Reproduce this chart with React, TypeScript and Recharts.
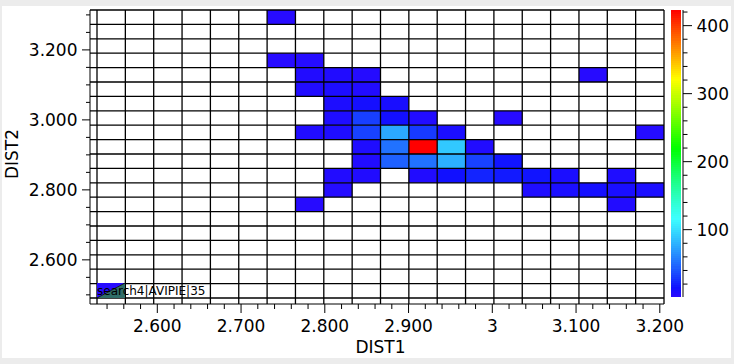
import React from 'react';
import { ScatterChart, Scatter, XAxis, YAxis, ReferenceArea, ReferenceLine } from 'recharts';

// ---- axis ranges / bins ----
const X_MIN = 2.528;
const X_MAX = 3.205;
const Y_MIN = 2.491;
const Y_MAX = 3.314;
const N_BINS = 20;

// ---- tick labels ----
const xMajorTicks = [2.6, 2.7, 2.8, 2.9, 3.0, 3.1, 3.2];
const xMajorLabels = ['2.600', '2.700', '2.800', '2.900', '3', '3.100', '3.200'];
const yMajorTicks = [2.6, 2.8, 3.0, 3.2];
const yMajorLabels = ['2.600', '2.800', '3.000', '3.200'];
const cbMajorTicks = [100, 200, 300, 400];
const cbMajorLabels = ['100', '200', '300', '400'];

// ---- histogram cells (column index from left, row index from top, count) ----
const binCol = [6, 6, 7, 7, 8, 9, 17, 7, 8, 9, 8, 9, 10, 8, 9, 10, 11, 14, 7, 8, 9, 10, 11, 12, 19, 9, 10, 11, 12, 13, 9, 10, 11, 12, 13, 14, 8, 9, 11, 12, 13, 14, 15, 16, 18, 8, 15, 16, 17, 18, 19, 7, 18];
const binRow = [0, 3, 3, 4, 4, 4, 4, 5, 5, 5, 6, 6, 6, 7, 7, 7, 7, 7, 8, 8, 8, 8, 8, 8, 8, 9, 9, 9, 9, 9, 10, 10, 10, 10, 10, 10, 11, 11, 11, 11, 11, 11, 11, 11, 11, 12, 12, 12, 12, 12, 12, 13, 13];
const binCount = [3, 3, 4, 5, 6, 4, 3, 6, 8, 5, 8, 12, 10, 7, 32, 13, 5, 3, 6, 7, 33, 75, 30, 9, 4, 7, 52, 423, 90, 6, 6, 45, 52, 78, 33, 16, 5, 6, 6, 14, 22, 18, 16, 9, 7, 4, 7, 9, 12, 10, 9, 3, 5];

const V_MIN = 1;
const V_MAX = 423;

const legendLabel = 'search4|AVIPIE|35';

const FONT = '"DejaVu Sans", Verdana, sans-serif';

function colorAt(t: number): string {
  const tt = Math.max(0, Math.min(1, t));
  const hue = 248 * (1 - tt);
  let light = 50;
  if (hue >= 180) light = 52 + ((248 - hue) / 68) * 10;
  else if (hue >= 120) light = 62 - ((180 - hue) / 60) * 12;
  else light = 50;
  return `hsl(${hue.toFixed(1)}, 100%, ${light.toFixed(1)}%)`;
}
const colorFor = (v: number) => colorAt((v - V_MIN) / (V_MAX - V_MIN));

const xStep = (X_MAX - X_MIN) / N_BINS;
const yStep = (Y_MAX - Y_MIN) / N_BINS;
const xEdges = Array.from({ length: N_BINS + 1 }, (_, i) => X_MIN + i * xStep);
const yEdges = Array.from({ length: N_BINS + 1 }, (_, i) => Y_MIN + i * yStep);

const xMinor: number[] = [];
for (let i = 0; i <= 33; i++) xMinor.push(Math.round((2.54 + i * 0.02) * 1000) / 1000);
const yMinor: number[] = [];
for (let i = 0; i <= 16; i++) yMinor.push(Math.round((2.5 + i * 0.05) * 1000) / 1000);
const cbMinor: number[] = [];
for (let i = 1; i <= 21; i++) cbMinor.push(i * 20);

// colour-bar slices (scale of the colour map)
const CB_SLICES = 141;
const cbStep = (V_MAX - V_MIN) / CB_SLICES;
const cbSlices = Array.from({ length: CB_SLICES }, (_, i) => V_MIN + i * cbStep);

const isMajor = (v: number, majors: number[]) => majors.findIndex((m) => Math.abs(m - v) < 1e-6);

const XTick = (props: any) => {
  const { x, y, payload } = props;
  const idx = isMajor(payload.value, xMajorTicks);
  return (
    <g>
      <line x1={x} x2={x} y1={y} y2={y + (idx >= 0 ? 9 : 5)} stroke="#000" strokeWidth={1} />
      {idx >= 0 && (
        <text x={x} y={y + 28} textAnchor="middle" fontSize={17} fontFamily={FONT} fill="#000">
          {xMajorLabels[idx]}
        </text>
      )}
    </g>
  );
};

const YTick = (props: any) => {
  const { x, y, payload } = props;
  const idx = isMajor(payload.value, yMajorTicks);
  return (
    <g>
      <line x1={x - (idx >= 0 ? 8 : 4)} x2={x} y1={y} y2={y} stroke="#000" strokeWidth={1} />
      {idx >= 0 && (
        <text x={x - 12.5} y={y} dy="0.36em" textAnchor="end" fontSize={17} fontFamily={FONT} fill="#000">
          {yMajorLabels[idx]}
        </text>
      )}
    </g>
  );
};

const CbTick = (props: any) => {
  const { x, y, payload } = props;
  const idx = isMajor(payload.value, cbMajorTicks);
  return (
    <g>
      <line x1={x} x2={x + (idx >= 0 ? 9 : 4.5)} y1={y} y2={y} stroke="#000" strokeWidth={1} />
      {idx >= 0 && (
        <text x={x + 13.5} y={y} dy="0.36em" textAnchor="start" fontSize={17} fontFamily={FONT} fill="#000">
          {cbMajorLabels[idx]}
        </text>
      )}
    </g>
  );
};

export default function App() {
  return (
    <div style={{ position: 'absolute', left: 0, top: 0, width: 734, height: 364, background: '#ececec', overflow: 'hidden' }}>
      <div style={{ position: 'absolute', left: 2, top: 6, width: 729, height: 352, background: '#ffffff' }} />
      <div style={{ position: 'absolute', left: 0, top: 0 }}>
        <ScatterChart width={734} height={364} margin={{ top: 10, right: 70, bottom: 10, left: 8 }}>
          <XAxis
            type="number"
            dataKey="x"
            domain={[X_MIN, X_MAX]}
            allowDataOverflow
            ticks={xMinor}
            interval={0}
            tick={<XTick />}
            tickSize={0}
            tickMargin={0}
            tickLine={false}
            axisLine={{ stroke: '#000', strokeWidth: 1 }}
            height={50}
            padding={{ left: 7, right: 0 }}
          />
          <YAxis
            type="number"
            dataKey="y"
            domain={[Y_MIN, Y_MAX]}
            allowDataOverflow
            ticks={yMinor}
            interval={0}
            tick={<YTick />}
            tickSize={0}
            tickMargin={0}
            tickLine={false}
            axisLine={{ stroke: '#000', strokeWidth: 1 }}
            width={82}
            padding={{ top: 0, bottom: 6 }}
          />
          {binCount.map((c, i) => (
            <ReferenceArea
              key={'c' + i}
              x1={xEdges[binCol[i]]}
              x2={xEdges[binCol[i] + 1]}
              y1={Y_MAX - (binRow[i] + 1) * yStep}
              y2={Y_MAX - binRow[i] * yStep}
              fill={colorFor(c)}
              fillOpacity={1}
              stroke="none"
              ifOverflow="visible"
            />
          ))}
          {xEdges.map((e, i) => (
            <ReferenceLine key={'vx' + i} x={e} stroke="#000" strokeWidth={1.3} ifOverflow="visible" />
          ))}
          {yEdges.map((e, i) => (
            <ReferenceLine key={'hy' + i} y={e} stroke="#000" strokeWidth={1.3} ifOverflow="visible" />
          ))}
          <Scatter data={[]} isAnimationActive={false} />
          <text x={380.5} y={353} textAnchor="middle" fontSize={17} fontFamily={FONT} fill="#000">DIST1</text>
          <text x={18} y={154} transform="rotate(-90 18 154)" textAnchor="middle" fontSize={17} fontFamily={FONT} fill="#000">DIST2</text>
        </ScatterChart>
      </div>
      <div style={{ position: 'absolute', left: 640, top: 0 }}>
        <ScatterChart width={94} height={364} margin={{ top: 10, right: 0, bottom: 67, left: 31 }}>
          <XAxis
            type="number"
            dataKey="x"
            domain={[0, 12]}
            allowDataOverflow
            height={0}
            tick={false}
            tickLine={false}
            axisLine={false}
          />
          <YAxis
            type="number"
            dataKey="v"
            orientation="right"
            domain={[V_MIN, V_MAX]}
            allowDataOverflow
            ticks={cbMinor}
            interval={0}
            tick={<CbTick />}
            tickSize={0}
            tickMargin={0}
            tickLine={false}
            axisLine={{ stroke: '#000', strokeWidth: 1 }}
            width={51}
          />
          {cbSlices.map((v, i) => (
            <ReferenceArea
              key={'s' + i}
              x1={0}
              x2={10}
              y1={v}
              y2={Math.min(V_MAX, v + cbStep * 2)}
              fill={colorFor(v + cbStep / 2)}
              fillOpacity={1}
              stroke="none"
              ifOverflow="visible"
              shapeRendering="crispEdges"
            />
          ))}
          <Scatter data={[]} isAnimationActive={false} />
        </ScatterChart>
      </div>
      <div style={{ position: 'absolute', left: 97, top: 283, height: 15 }}>
        <svg width={28} height={15} style={{ position: 'absolute', left: 0, top: 0 }}>
          <polygon points="0,0 28,0 0,15" fill={colorFor(3)} />
          <polygon points="28,0 28,15 0,15" fill="#2f6d68" />
          <line x1={0} y1={15} x2={28} y2={0} stroke="#000" strokeWidth={0.8} />
        </svg>
        <span style={{ position: 'absolute', left: 0, top: 1, fontFamily: FONT, fontSize: 12, lineHeight: '14px', color: '#000', whiteSpace: 'nowrap' }}>
          {legendLabel}
        </span>
      </div>
    </div>
  );
}
